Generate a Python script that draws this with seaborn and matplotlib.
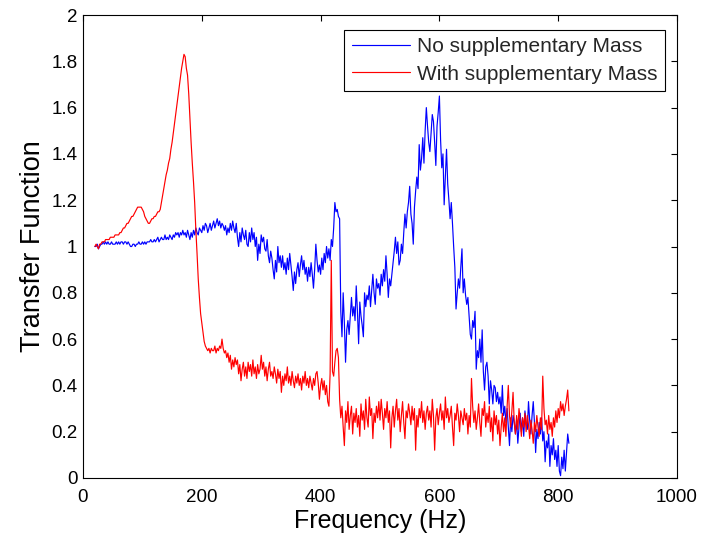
import numpy as np
import pandas as pd
import matplotlib
matplotlib.use("Agg")
import matplotlib.pyplot as plt
from matplotlib.ticker import FuncFormatter
import seaborn as sns

# Frequency grid of the measurement (Hz): 2 Hz resolution from 20 Hz
freq_start, freq_step, n_points = 20, 2, 400

# Transfer function without the supplementary mass (10 samples per row = 20 Hz)
blue_values = [
    1.00, 1.00, 1.01, 0.99, 1.00, 1.01, 1.01, 1.02, 1.01, 1.02,
    1.01, 1.02, 1.01, 1.01, 1.02, 1.01, 1.01, 1.01, 1.02, 1.01,
    1.02, 1.01, 1.02, 1.02, 1.01, 1.02, 1.02, 1.01, 1.02, 1.01,
    1.00, 1.00, 1.01, 1.01, 1.00, 1.01, 1.01, 1.02, 1.01, 1.01,
    1.02, 1.01, 1.02, 1.01, 1.02, 1.02, 1.02, 1.03, 1.02, 1.02,
    1.03, 1.02, 1.03, 1.04, 1.02, 1.03, 1.04, 1.03, 1.03, 1.05,
    1.03, 1.04, 1.03, 1.05, 1.04, 1.03, 1.05, 1.04, 1.06, 1.05,
    1.06, 1.04, 1.06, 1.05, 1.07, 1.05, 1.06, 1.04, 1.07, 1.05,
    1.03, 1.06, 1.04, 1.07, 1.05, 1.08, 1.06, 1.05, 1.08, 1.07,
    1.06, 1.09, 1.07, 1.10, 1.09, 1.06, 1.08, 1.10, 1.07, 1.09,
    1.11, 1.08, 1.10, 1.12, 1.09, 1.11, 1.08, 1.10, 1.09, 1.07,
    1.09, 1.05, 1.08, 1.06, 1.10, 1.07, 1.11, 1.08, 1.06, 1.10,
    1.04, 1.00, 1.06, 1.02, 1.08, 1.05, 1.03, 1.07, 1.01, 1.00,
    1.06, 1.02, 1.08, 1.03, 1.06, 1.00, 1.04, 0.94, 1.01, 0.97,
    1.05, 1.02, 1.04, 0.99, 0.98, 1.03, 0.96, 0.93, 0.98, 0.95,
    0.90, 0.86, 0.94, 0.89, 1.00, 0.93, 0.96, 0.91, 0.96, 0.90,
    0.93, 0.88, 0.95, 0.90, 0.97, 0.92, 0.87, 0.81, 0.89, 0.84,
    0.90, 0.93, 0.87, 0.92, 0.96, 0.90, 0.94, 0.88, 0.91, 0.85,
    0.91, 0.87, 0.93, 0.88, 0.82, 0.90, 1.01, 0.94, 0.89, 0.92,
    0.88, 0.95, 0.90, 0.97, 0.93, 1.00, 0.95, 0.99, 0.94, 1.03,
    1.00, 1.08, 1.19, 1.15, 1.16, 1.13, 1.12, 0.72, 0.61, 0.80,
    0.67, 0.50, 0.64, 0.68, 0.62, 0.70, 0.78, 0.70, 0.74, 0.68,
    0.83, 0.72, 0.58, 0.76, 0.70, 0.66, 0.61, 0.80, 0.74, 0.79,
    0.77, 0.83, 0.74, 0.81, 0.88, 0.80, 0.75, 0.86, 0.82, 0.84,
    0.79, 0.88, 0.83, 0.90, 0.85, 0.96, 0.88, 0.78, 0.86, 0.83,
    0.88, 0.93, 0.98, 1.04, 0.97, 1.02, 0.92, 0.94, 1.01, 0.97,
    1.06, 1.14, 1.08, 1.15, 1.19, 1.26, 1.14, 1.10, 1.01, 1.17,
    1.24, 1.30, 1.25, 1.44, 1.33, 1.38, 1.47, 1.36, 1.50, 1.60,
    1.52, 1.45, 1.41, 1.49, 1.57, 1.54, 1.45, 1.35, 1.52, 1.58,
    1.65, 1.46, 1.34, 1.40, 1.18, 1.30, 1.42, 1.27, 1.20, 1.12,
    1.19, 1.10, 1.00, 0.91, 0.73, 0.80, 0.86, 0.82, 0.91, 0.99,
    0.80, 0.86, 0.79, 0.75, 0.78, 0.70, 0.62, 0.60, 0.68, 0.65,
    0.72, 0.47, 0.55, 0.52, 0.60, 0.50, 0.64, 0.46, 0.38, 0.48,
    0.50, 0.44, 0.32, 0.42, 0.38, 0.32, 0.40, 0.39, 0.33, 0.37,
    0.32, 0.35, 0.28, 0.40, 0.27, 0.31, 0.24, 0.30, 0.22, 0.14,
    0.26, 0.20, 0.27, 0.24, 0.19, 0.25, 0.15, 0.22, 0.28, 0.20,
    0.26, 0.18, 0.29, 0.24, 0.21, 0.33, 0.25, 0.19, 0.27, 0.33,
    0.24, 0.11, 0.21, 0.17, 0.24, 0.19, 0.26, 0.16, 0.20, 0.07,
    0.16, 0.13, 0.19, 0.05, 0.14, 0.10, 0.17, 0.08, 0.12, 0.05,
    0.14, 0.03, 0.01, 0.09, 0.04, 0.12, 0.03, 0.11, 0.19, 0.15,
]

# Transfer function with the supplementary mass
red_values = [
    1.00, 1.01, 1.00, 0.99, 1.01, 1.01, 1.02, 1.02, 1.02, 1.03,
    1.03, 1.03, 1.03, 1.04, 1.04, 1.04, 1.04, 1.05, 1.05, 1.05,
    1.05, 1.06, 1.06, 1.07, 1.08, 1.08, 1.09, 1.10, 1.10, 1.11,
    1.12, 1.13, 1.13, 1.14, 1.15, 1.16, 1.17, 1.17, 1.17, 1.17,
    1.16, 1.15, 1.13, 1.12, 1.11, 1.10, 1.10, 1.11, 1.12, 1.12,
    1.13, 1.13, 1.14, 1.15, 1.15, 1.16, 1.19, 1.22, 1.25, 1.28,
    1.31, 1.33, 1.36, 1.38, 1.42, 1.45, 1.49, 1.53, 1.57, 1.61,
    1.65, 1.69, 1.73, 1.77, 1.80, 1.83, 1.82, 1.77, 1.74, 1.66,
    1.55, 1.45, 1.36, 1.28, 1.19, 1.07, 0.97, 0.86, 0.78, 0.71,
    0.67, 0.63, 0.59, 0.57, 0.56, 0.55, 0.56, 0.54, 0.56, 0.55,
    0.55, 0.57, 0.54, 0.56, 0.55, 0.57, 0.56, 0.60, 0.56, 0.54,
    0.55, 0.52, 0.54, 0.50, 0.53, 0.47, 0.51, 0.48, 0.52, 0.49,
    0.51, 0.45, 0.49, 0.42, 0.47, 0.50, 0.44, 0.48, 0.43, 0.50,
    0.46, 0.49, 0.44, 0.51, 0.45, 0.48, 0.43, 0.49, 0.45, 0.47,
    0.53, 0.47, 0.50, 0.44, 0.48, 0.42, 0.47, 0.50, 0.44, 0.46,
    0.43, 0.48, 0.45, 0.41, 0.47, 0.43, 0.46, 0.37, 0.44, 0.40,
    0.45, 0.42, 0.48, 0.41, 0.44, 0.40, 0.46, 0.42, 0.39, 0.44,
    0.41, 0.45, 0.40, 0.43, 0.38, 0.44, 0.41, 0.46, 0.40, 0.43,
    0.39, 0.44, 0.41, 0.38, 0.43, 0.40, 0.45, 0.46, 0.41, 0.34,
    0.40, 0.43, 0.38, 0.42, 0.36, 0.40, 0.33, 0.31, 0.45, 0.94,
    0.46, 0.44, 0.50, 0.55, 0.56, 0.52, 0.34, 0.26, 0.31, 0.22,
    0.14, 0.29, 0.24, 0.33, 0.21, 0.27, 0.31, 0.19, 0.28, 0.24,
    0.30, 0.22, 0.27, 0.18, 0.32, 0.25, 0.29, 0.21, 0.34, 0.26,
    0.22, 0.35, 0.27, 0.30, 0.17, 0.28, 0.24, 0.31, 0.26, 0.33,
    0.25, 0.34, 0.28, 0.21, 0.30, 0.26, 0.33, 0.24, 0.29, 0.13,
    0.26, 0.31, 0.22, 0.29, 0.34, 0.25, 0.30, 0.20, 0.27, 0.33,
    0.24, 0.17, 0.29, 0.26, 0.32, 0.28, 0.23, 0.31, 0.25, 0.30,
    0.12, 0.27, 0.22, 0.30, 0.26, 0.33, 0.24, 0.29, 0.21, 0.28,
    0.31, 0.25, 0.29, 0.22, 0.34, 0.27, 0.12, 0.26, 0.30, 0.23,
    0.28, 0.32, 0.25, 0.29, 0.21, 0.35, 0.26, 0.30, 0.24, 0.27,
    0.31, 0.22, 0.14, 0.28, 0.25, 0.32, 0.27, 0.20, 0.29, 0.26,
    0.23, 0.30, 0.25, 0.28, 0.19, 0.27, 0.22, 0.43, 0.31, 0.24,
    0.29, 0.21, 0.26, 0.32, 0.24, 0.18, 0.30, 0.27, 0.33, 0.22,
    0.28, 0.24, 0.31, 0.20, 0.26, 0.16, 0.29, 0.23, 0.27, 0.19,
    0.25, 0.14, 0.22, 0.28, 0.20, 0.26, 0.18, 0.31, 0.40, 0.27,
    0.22, 0.29, 0.37, 0.24, 0.19, 0.27, 0.21, 0.30, 0.25, 0.18,
    0.26, 0.22, 0.28, 0.20, 0.27, 0.23, 0.17, 0.25, 0.21, 0.15,
    0.24, 0.20, 0.27, 0.22, 0.18, 0.26, 0.21, 0.44, 0.30, 0.23,
    0.25, 0.19, 0.27, 0.21, 0.24, 0.18, 0.26, 0.22, 0.29, 0.24,
    0.30, 0.26, 0.33, 0.29, 0.32, 0.27, 0.31, 0.34, 0.38, 0.29,
]

series_names = ["No supplementary Mass", "With supplementary Mass"]
series_colors = ["#0000ff", "#ff0000"]

x_ticks = [0, 200, 400, 600, 800, 1000]
y_ticks = [0, 0.2, 0.4, 0.6, 0.8, 1.0, 1.2, 1.4, 1.6, 1.8, 2.0]

freq = freq_start + freq_step * np.arange(n_points)
assert len(blue_values) == n_points and len(red_values) == n_points

df = pd.DataFrame({
    "Frequency": np.concatenate([freq, freq]),
    "Transfer": np.array(blue_values + red_values),
    "Series": [series_names[0]] * n_points + [series_names[1]] * n_points,
})

sns.set_style("white")
plt.rcParams["font.family"] = ["Liberation Sans", "DejaVu Sans"]

fig = plt.figure(figsize=(7.05, 5.44), dpi=100)
ax = fig.add_axes([83 / 705, 1 - 478 / 544, (677 - 83) / 705, (478 - 15) / 544])

sns.lineplot(
    data=df, x="Frequency", y="Transfer", hue="Series",
    hue_order=series_names, palette=dict(zip(series_names, series_colors)),
    estimator=None, linewidth=0.85, ax=ax,
)

ax.set_xlim(0, 1000)
ax.set_ylim(0, 2)
ax.set_xticks(x_ticks)
ax.set_yticks(y_ticks)
ax.yaxis.set_major_formatter(FuncFormatter(lambda v, _: f"{v:g}"))

for side in ["left", "right", "top", "bottom"]:
    ax.spines[side].set_visible(True)
    ax.spines[side].set_color("black")
    ax.spines[side].set_linewidth(0.8)

ax.tick_params(axis="both", which="major", direction="in", length=4.5,
               width=0.8, color="black", top=True, right=True,
               labelsize=13.5, labelcolor="black")
ax.tick_params(axis="x", pad=8)
ax.tick_params(axis="y", pad=4)

ax.set_xlabel("Frequency (Hz)", fontsize=18, color="black", labelpad=2)
ax.set_ylabel("Transfer Function", fontsize=19.5, color="black", labelpad=4)

leg = ax.legend(
    loc="upper right", bbox_to_anchor=(665 / 705, 1 - 30 / 544),
    bbox_transform=fig.transFigure, borderaxespad=0,
    fontsize=15, frameon=True, fancybox=False, framealpha=1,
    edgecolor="black", handlelength=2.8, handletextpad=0.35,
    borderpad=0.35, labelspacing=0.4,
)
leg.get_frame().set_linewidth(0.8)
for line in leg.get_lines():
    line.set_linewidth(0.85)

fig.savefig("out.png", dpi=100, facecolor="white")
